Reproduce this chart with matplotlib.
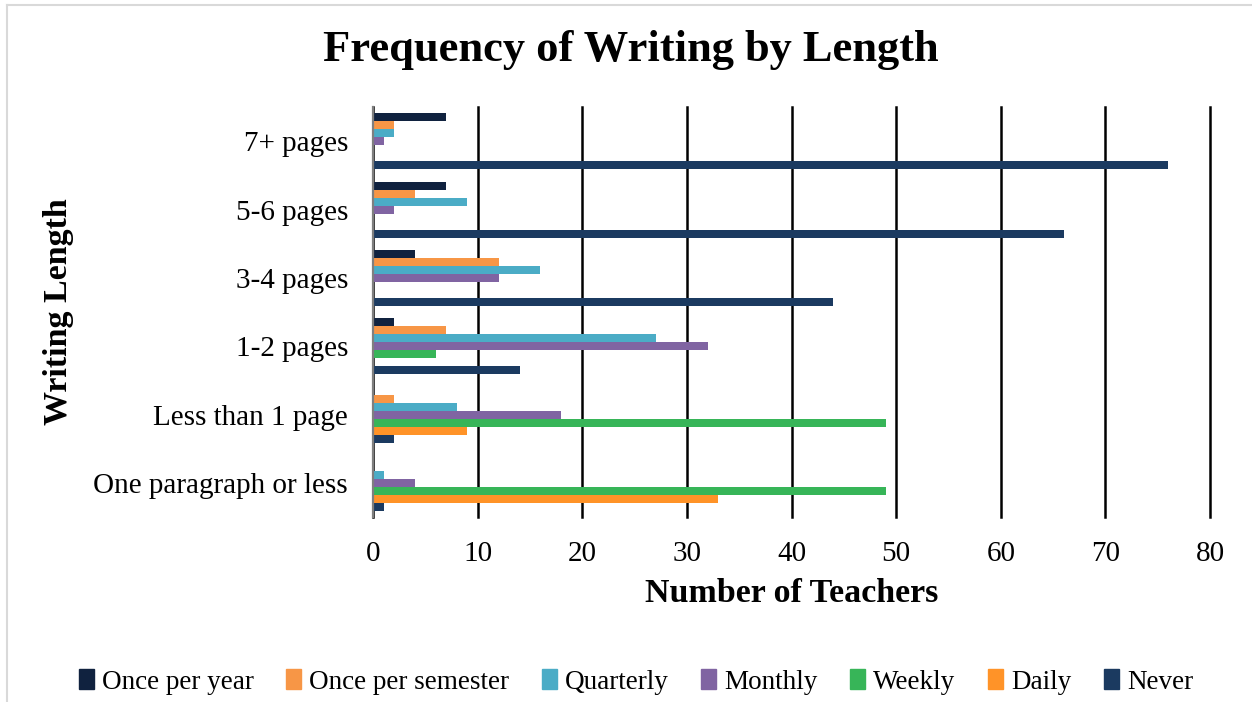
import numpy as np
import matplotlib.pyplot as plt
from matplotlib.lines import Line2D
from matplotlib.patches import Patch

# writing lengths, bottom to top on the y axis
lengths = ["One paragraph or less", "Less than 1 page", "1-2 pages",
           "3-4 pages", "5-6 pages", "7+ pages"]

frequencies = ["Once per year", "Once per semester", "Quarterly",
               "Monthly", "Weekly", "Daily", "Never"]

# number of teachers per length (same order as lengths)
once_per_year = [0, 0, 2, 4, 7, 7]
once_per_semester = [0, 2, 7, 12, 4, 2]
quarterly = [1, 8, 27, 16, 9, 2]
monthly = [4, 18, 32, 12, 2, 1]
weekly = [49, 49, 6, 0, 0, 0]
daily = [33, 9, 0, 0, 0, 0]
never = [1, 2, 14, 44, 66, 76]

series = [once_per_year, once_per_semester, quarterly, monthly,
          weekly, daily, never]

colors = ["#10223f", "#f79646", "#4bacc6", "#8064a2",
          "#37b558", "#ff9328", "#1b3a60"]

FONT = "Liberation Serif"

fig = plt.figure(figsize=(12.52, 7.02), dpi=100)
ax = fig.add_axes([0.298, 0.2635, 0.6685, 0.584])

y = np.arange(len(lengths))
h = 0.117
for i, (vals, col) in enumerate(zip(series, colors)):
    ax.barh(y + (3 - i) * h, vals, height=h, color=col, zorder=3)

ax.set_xlim(0, 80)
ax.set_ylim(-0.5, len(lengths) - 0.5)
ax.set_xticks(range(0, 81, 10))
ax.set_yticks(y)
ax.set_yticklabels(lengths)

ax.grid(axis="x", color="black", linewidth=1.8, zorder=0)
for gl in ax.get_xgridlines():
    gl.set_clip_on(False)
ax.tick_params(length=0, labelsize=21)
ax.tick_params(axis="y", pad=18)
ax.tick_params(axis="x", pad=17)
for lbl in ax.get_xticklabels() + ax.get_yticklabels():
    lbl.set_fontfamily(FONT)

for side in ["top", "right", "bottom"]:
    ax.spines[side].set_visible(False)
ax.spines["left"].set_color("#7f7f7f")
ax.spines["left"].set_linewidth(1.6)
ax.spines["left"].set_zorder(4)

ax.set_xlabel("Number of Teachers", fontsize=24.5, fontweight="bold",
              fontfamily=FONT, labelpad=8)
ax.set_ylabel("Writing Length", fontsize=24.5, fontweight="bold",
              fontfamily=FONT)
ax.yaxis.set_label_coords(-0.357, 0.5)

fig.text(0.504, 0.929, "Frequency of Writing by Length", ha="center",
         va="center", fontsize=32, fontweight="bold", fontfamily=FONT)

handles = [Patch(color=c) for c in colors]
fig.legend(handles, frequencies, loc="center", bbox_to_anchor=(0.508, 0.029),
           ncol=7, frameon=False, handlelength=0.55, handleheight=0.8,
           handletextpad=0.3, columnspacing=1.2,
           prop={"family": FONT, "size": 19.5})

# light outer frame of the chart area
fig.add_artist(Line2D([7 / 1252, 7 / 1252], [0, 1 - 5 / 702],
                      color="#d9d9d9", linewidth=1.5))
fig.add_artist(Line2D([7 / 1252, 1], [1 - 5 / 702, 1 - 5 / 702],
                      color="#d9d9d9", linewidth=1.5))

fig.savefig("out.png", dpi=100)
